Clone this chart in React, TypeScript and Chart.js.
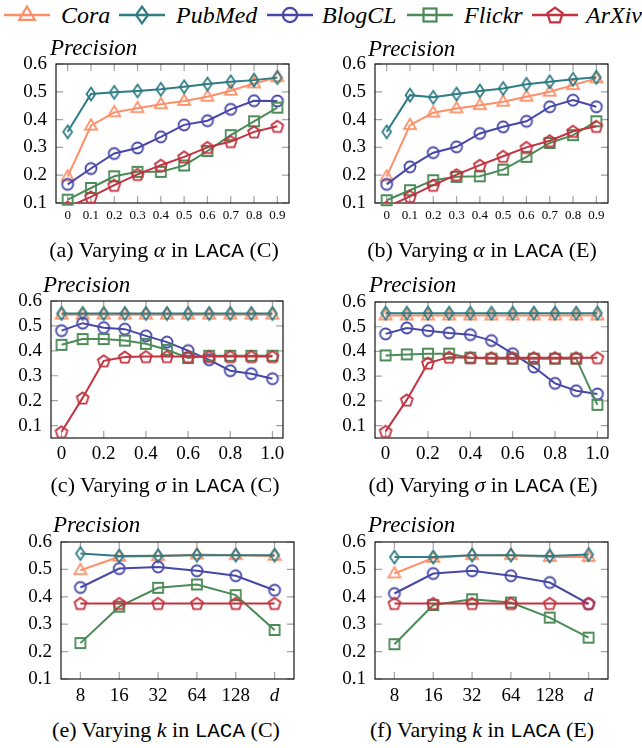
import React, { useEffect, useRef } from "react";
import { Chart, registerables } from "chart.js";
Chart.register(...registerables);

const FAMILY = '"Liberation Serif", "Times New Roman", serif';

const SERIES = ["Cora", "PubMed", "BlogCL", "Flickr", "ArXiv"];
const COLORS = ["#FD8F68", "#2E7C84", "#4747A8", "#4B8B57", "#C2323F"];
const SHAPES = ["triangle", "diamond", "circle", "square", "pentagon"];

const ALPHA_LABELS = ["0", "0.1", "0.2", "0.3", "0.4", "0.5", "0.6", "0.7", "0.8", "0.9"];
const SIGMA_VALUES = [0, 0.1, 0.2, 0.3, 0.4, 0.5, 0.6, 0.7, 0.8, 0.9, 1.0];
const SIGMA_TICKS = [0, 0.2, 0.4, 0.6, 0.8, 1.0];
const K_LABELS = ["8", "16", "32", "64", "128", "d"];
const Y_TICKS = [0.1, 0.2, 0.3, 0.4, 0.5, 0.6];

// (a) alpha, LACA (C)
const A_CORA = [0.195, 0.378, 0.426, 0.441, 0.455, 0.467, 0.482, 0.504, 0.53, 0.552];
const A_PUBMED = [0.356, 0.492, 0.498, 0.503, 0.509, 0.518, 0.528, 0.536, 0.542, 0.551];
const A_BLOGCL = [0.167, 0.224, 0.278, 0.298, 0.338, 0.381, 0.396, 0.437, 0.468, 0.467];
const A_FLICKR = [0.112, 0.154, 0.196, 0.212, 0.212, 0.235, 0.287, 0.344, 0.394, 0.443];
const A_ARXIV = [0.085, 0.122, 0.164, 0.203, 0.236, 0.266, 0.3, 0.321, 0.356, 0.376];

// (b) alpha, LACA (E)
const B_CORA = [0.195, 0.38, 0.425, 0.44, 0.452, 0.464, 0.482, 0.5, 0.524, 0.548];
const B_PUBMED = [0.356, 0.488, 0.48, 0.492, 0.503, 0.512, 0.527, 0.536, 0.545, 0.552];
const B_BLOGCL = [0.167, 0.23, 0.281, 0.302, 0.35, 0.374, 0.394, 0.446, 0.47, 0.446];
const B_FLICKR = [0.11, 0.146, 0.182, 0.194, 0.196, 0.22, 0.266, 0.316, 0.344, 0.394];
const B_ARXIV = [0.085, 0.124, 0.164, 0.202, 0.236, 0.268, 0.3, 0.324, 0.358, 0.376];

// (c) sigma, LACA (C)
const C_CORA = [0.545, 0.545, 0.545, 0.545, 0.545, 0.545, 0.545, 0.545, 0.545, 0.545, 0.545];
const C_PUBMED = [0.55, 0.55, 0.55, 0.55, 0.55, 0.55, 0.55, 0.55, 0.55, 0.55, 0.55];
const C_BLOGCL = [0.481, 0.511, 0.493, 0.487, 0.46, 0.435, 0.401, 0.364, 0.32, 0.308, 0.288];
const C_FLICKR = [0.424, 0.447, 0.447, 0.441, 0.428, 0.404, 0.371, 0.38, 0.38, 0.38, 0.38];
const C_ARXIV = [0.075, 0.211, 0.36, 0.375, 0.377, 0.377, 0.377, 0.377, 0.377, 0.377, 0.377];

// (d) sigma, LACA (E)
const D_CORA = [0.545, 0.545, 0.545, 0.545, 0.545, 0.545, 0.545, 0.545, 0.545, 0.545, 0.545];
const D_PUBMED = [0.555, 0.555, 0.555, 0.555, 0.555, 0.555, 0.555, 0.555, 0.555, 0.555, 0.555];
const D_BLOGCL = [0.471, 0.495, 0.484, 0.475, 0.468, 0.444, 0.391, 0.337, 0.271, 0.241, 0.228];
const D_FLICKR = [0.384, 0.388, 0.391, 0.391, 0.375, 0.371, 0.371, 0.371, 0.371, 0.371, 0.184];
const D_ARXIV = [0.077, 0.204, 0.353, 0.377, 0.375, 0.375, 0.375, 0.375, 0.375, 0.375, 0.375];

// (e) k, LACA (C)
const E_CORA = [0.497, 0.546, 0.548, 0.554, 0.552, 0.549];
const E_PUBMED = [0.558, 0.549, 0.55, 0.552, 0.552, 0.552];
const E_BLOGCL = [0.434, 0.503, 0.509, 0.495, 0.477, 0.424];
const E_FLICKR = [0.231, 0.364, 0.433, 0.445, 0.406, 0.279];
const E_ARXIV = [0.376, 0.376, 0.376, 0.376, 0.376, 0.376];

// (f) k, LACA (E)
const F_CORA = [0.485, 0.542, 0.552, 0.552, 0.545, 0.545];
const F_PUBMED = [0.545, 0.545, 0.552, 0.552, 0.549, 0.554];
const F_BLOGCL = [0.412, 0.485, 0.495, 0.477, 0.452, 0.374];
const F_FLICKR = [0.227, 0.37, 0.391, 0.379, 0.324, 0.251];
const F_ARXIV = [0.376, 0.376, 0.376, 0.376, 0.376, 0.376];

type Box = { x: number; y: number; w: number; h: number };
type Frame = { L: number; T: number; R: number; B: number };
type PanelDef = {
  kind: "cat" | "lin";
  labels?: string[];
  series: number[][];
  yMin: number;
  yMax: number;
  xFont: number;
  xPad: number;
  canvas: Box;
  frame: Frame;
  titleDx: number;
  titleDy: number;
  italicLast?: boolean;
};

const PANELS: PanelDef[] = [
  {
    kind: "cat", labels: ALPHA_LABELS,
    series: [A_CORA, A_PUBMED, A_BLOGCL, A_FLICKR, A_ARXIV],
    yMin: 0.1, yMax: 0.6, xFont: 13, xPad: 5,
    canvas: { x: 0, y: 30, w: 321, h: 205 },
    frame: { L: 56, T: 64, R: 289, B: 203 },
    titleDx: -6, titleDy: -9,
  },
  {
    kind: "cat", labels: ALPHA_LABELS,
    series: [B_CORA, B_PUBMED, B_BLOGCL, B_FLICKR, B_ARXIV],
    yMin: 0.1, yMax: 0.6, xFont: 13, xPad: 5,
    canvas: { x: 321, y: 30, w: 321, h: 205 },
    frame: { L: 375, T: 64, R: 608, B: 203 },
    titleDx: -7, titleDy: -8,
  },
  {
    kind: "lin",
    series: [C_CORA, C_PUBMED, C_BLOGCL, C_FLICKR, C_ARXIV],
    yMin: 0.05, yMax: 0.6, xFont: 19, xPad: 5,
    canvas: { x: 0, y: 262, w: 321, h: 213 },
    frame: { L: 51, T: 301, R: 283, B: 438 },
    titleDx: -8, titleDy: -9.5,
  },
  {
    kind: "lin",
    series: [D_CORA, D_PUBMED, D_BLOGCL, D_FLICKR, D_ARXIV],
    yMin: 0.05, yMax: 0.6, xFont: 19, xPad: 5,
    canvas: { x: 321, y: 262, w: 321, h: 213 },
    frame: { L: 375, T: 302, R: 608, B: 438 },
    titleDx: -6, titleDy: -10,
  },
  {
    kind: "cat", labels: K_LABELS, italicLast: true,
    series: [E_CORA, E_PUBMED, E_BLOGCL, E_FLICKR, E_ARXIV],
    yMin: 0.1, yMax: 0.6, xFont: 19, xPad: 6,
    canvas: { x: 0, y: 500, w: 321, h: 215 },
    frame: { L: 61, T: 542, R: 294, B: 679 },
    titleDx: -8, titleDy: -10,
  },
  {
    kind: "cat", labels: K_LABELS, italicLast: true,
    series: [F_CORA, F_PUBMED, F_BLOGCL, F_FLICKR, F_ARXIV],
    yMin: 0.1, yMax: 0.6, xFont: 19, xPad: 6,
    canvas: { x: 321, y: 500, w: 321, h: 215 },
    frame: { L: 375, T: 542, R: 608, B: 679 },
    titleDx: -7, titleDy: -10,
  },
];

function shapePath(g: CanvasRenderingContext2D, shape: string, cx: number, cy: number, k: number) {
  g.beginPath();
  if (shape === "triangle") {
    g.moveTo(cx, cy - 6.5 * k);
    g.lineTo(cx + 6 * k, cy + 3.8 * k);
    g.lineTo(cx - 6 * k, cy + 3.8 * k);
    g.closePath();
  } else if (shape === "diamond") {
    g.moveTo(cx, cy - 6.5 * k);
    g.lineTo(cx + 4.4 * k, cy);
    g.lineTo(cx, cy + 6.5 * k);
    g.lineTo(cx - 4.4 * k, cy);
    g.closePath();
  } else if (shape === "circle") {
    g.arc(cx, cy, 5.5 * k, 0, Math.PI * 2);
  } else if (shape === "square") {
    g.rect(cx - 5 * k, cy - 5 * k, 10 * k, 10 * k);
  } else {
    for (let j = 0; j < 5; j++) {
      const a = -Math.PI / 2 + (j * 2 * Math.PI) / 5;
      const px = cx + 6.2 * k * Math.cos(a);
      const py = cy + 6.2 * k * Math.sin(a) + 0.6 * k;
      if (j === 0) g.moveTo(px, py);
      else g.lineTo(px, py);
    }
    g.closePath();
  }
}

function makeMarker(shape: string, color: string): HTMLCanvasElement {
  const c = document.createElement("canvas");
  c.width = 18;
  c.height = 18;
  const g = c.getContext("2d")!;
  g.strokeStyle = color;
  g.lineWidth = 1.8;
  g.lineJoin = "miter";
  shapePath(g, shape, 9, 9, 1);
  g.stroke();
  return c;
}

function framePlugin(def: PanelDef) {
  return {
    id: "frameTicks",
    beforeDatasetsDraw(chart: any) {
      const { ctx, chartArea: a, scales } = chart;
      const xs = scales.x;
      const ys = scales.y;
      const tl = 7;
      ctx.save();
      ctx.strokeStyle = "#a3a3a3";
      ctx.lineWidth = 1.2;
      ctx.beginPath();
      xs.ticks.forEach((_t: any, i: number) => {
        const px = xs.getPixelForTick(i);
        ctx.moveTo(px, a.bottom);
        ctx.lineTo(px, a.bottom - tl);
        ctx.moveTo(px, a.top);
        ctx.lineTo(px, a.top + tl);
      });
      ys.ticks.forEach((_t: any, i: number) => {
        const py = ys.getPixelForTick(i);
        ctx.moveTo(a.left, py);
        ctx.lineTo(a.left + tl, py);
        ctx.moveTo(a.right, py);
        ctx.lineTo(a.right - tl, py);
      });
      ctx.stroke();
      ctx.strokeStyle = "#000";
      ctx.lineWidth = 1.1;
      ctx.strokeRect(a.left, a.top, a.right - a.left, a.bottom - a.top);
      ctx.fillStyle = "#000";
      ctx.font = `italic 23px ${FAMILY}`;
      ctx.textAlign = "left";
      ctx.textBaseline = "alphabetic";
      ctx.fillText("Precision", a.left + def.titleDx, a.top + def.titleDy);
      ctx.restore();
    },
  };
}

function Panel({ def }: { def: PanelDef }) {
  const ref = useRef<HTMLCanvasElement>(null);
  useEffect(() => {
    const cv = ref.current!;
    const c = def.canvas;
    const f = def.frame;
    const datasets = SERIES.map((name, i) => ({
      label: name,
      data:
        def.kind === "lin"
          ? SIGMA_VALUES.map((x, j) => ({ x, y: def.series[i][j] }))
          : def.series[i],
      borderColor: COLORS[i],
      backgroundColor: "transparent",
      borderWidth: 2,
      pointStyle: makeMarker(SHAPES[i], COLORS[i]),
      pointRadius: 5,
      pointBorderWidth: 2,
      pointBorderColor: COLORS[i],
      pointBackgroundColor: "transparent",
      order: SERIES.length - i,
      clip: i === 4 ? 0 : 8,
      tension: 0,
    }));
    const xTickFont = (ctx: any) => ({
      family: FAMILY,
      size: def.xFont,
      style: def.italicLast && ctx.index === 5 ? "italic" : "normal",
    });
    const xScale: any =
      def.kind === "cat"
        ? {
            type: "category",
            offset: true,
            grid: { display: false, drawTicks: false },
            border: { display: false },
            ticks: { font: xTickFont, color: "#000", padding: def.xPad, maxRotation: 0, autoSkip: false },
            afterFit: (s: any) => {
              s.height = c.y + c.h - f.B;
            },
          }
        : {
            type: "linear",
            min: -0.05,
            max: 1.05,
            grid: { display: false, drawTicks: false },
            border: { display: false },
            afterBuildTicks: (s: any) => {
              s.ticks = SIGMA_TICKS.map((v) => ({ value: v }));
            },
            ticks: {
              font: xTickFont,
              color: "#000",
              padding: def.xPad,
              maxRotation: 0,
              autoSkip: false,
              callback: (v: any) => (Number(v) === 0 ? "0" : Number(v).toFixed(1)),
            },
            afterFit: (s: any) => {
              s.height = c.y + c.h - f.B;
            },
          };
    const chart = new Chart(cv, {
      type: "line",
      data: { labels: def.kind === "cat" ? def.labels : undefined, datasets } as any,
      options: {
        animation: false,
        responsive: false,
        devicePixelRatio: 1,
        events: [],
        layout: { padding: { left: 0, top: f.T - c.y, right: c.x + c.w - f.R, bottom: 0 } },
        plugins: { legend: { display: false }, tooltip: { enabled: false } },
        scales: {
          x: xScale,
          y: {
            type: "linear",
            min: def.yMin,
            max: def.yMax,
            grid: { display: false, drawTicks: false },
            border: { display: false },
            afterBuildTicks: (s: any) => {
              s.ticks = Y_TICKS.map((v) => ({ value: v }));
            },
            ticks: {
              font: { family: FAMILY, size: 19 },
              color: "#000",
              padding: 9,
              callback: (v: any) => Number(v).toFixed(1),
            },
            afterFit: (s: any) => {
              s.width = f.L - c.x;
            },
          },
        },
      } as any,
      plugins: [framePlugin(def) as any],
    });
    return () => chart.destroy();
  }, [def]);
  return (
    <canvas
      ref={ref}
      width={def.canvas.w}
      height={def.canvas.h}
      style={{ position: "absolute", left: def.canvas.x, top: def.canvas.y, width: def.canvas.w, height: def.canvas.h }}
    />
  );
}

const LEGEND_ICON_X = [4, 119, 267, 407, 532];
const LEGEND_TEXT_X = [61, 176, 322, 464, 586];

function LegendIcon({ i }: { i: number }) {
  const color = COLORS[i];
  const shape = SHAPES[i];
  const cx = 23;
  const cy = 15;
  const k = 1.3;
  let el: any = null;
  if (shape === "triangle") {
    el = <polygon points={`${cx},${cy - 6.5 * k} ${cx + 6 * k},${cy + 3.8 * k} ${cx - 6 * k},${cy + 3.8 * k}`} />;
  } else if (shape === "diamond") {
    el = <polygon points={`${cx},${cy - 6.5 * k} ${cx + 4.6 * k},${cy} ${cx},${cy + 6.5 * k} ${cx - 4.6 * k},${cy}`} />;
  } else if (shape === "circle") {
    el = <circle cx={cx} cy={cy} r={5.5 * k} />;
  } else if (shape === "square") {
    el = <rect x={cx - 5 * k} y={cy - 5 * k} width={10 * k} height={10 * k} />;
  } else {
    const pts: string[] = [];
    for (let j = 0; j < 5; j++) {
      const a = -Math.PI / 2 + (j * 2 * Math.PI) / 5;
      pts.push(`${cx + 6.2 * k * Math.cos(a)},${cy + 6.2 * k * Math.sin(a) + 0.6 * k}`);
    }
    el = <polygon points={pts.join(" ")} />;
  }
  return (
    <svg width={46} height={30} style={{ position: "absolute", left: LEGEND_ICON_X[i], top: 0 }}>
      <line x1={0} y1={cy} x2={46} y2={cy} stroke={color} strokeWidth={2.4} />
      <g fill="none" stroke={color} strokeWidth={2.2}>
        {el}
      </g>
    </svg>
  );
}

function Legend() {
  return (
    <>
      {SERIES.map((name, i) => (
        <React.Fragment key={name}>
          <LegendIcon i={i} />
          <span
            style={{
              position: "absolute",
              left: LEGEND_TEXT_X[i],
              top: 2.6,
              fontFamily: FAMILY,
              fontStyle: "italic",
              fontSize: 24,
              lineHeight: "24px",
              whiteSpace: "nowrap",
              color: "#000",
            }}
          >
            {name}
          </span>
        </React.Fragment>
      ))}
    </>
  );
}

const CAPTIONS = [
  { letter: "a", sym: "α", mode: "C", cx: 164, base: 257 },
  { letter: "b", sym: "α", mode: "E", cx: 482, base: 257 },
  { letter: "c", sym: "σ", mode: "C", cx: 165, base: 492 },
  { letter: "d", sym: "σ", mode: "E", cx: 483, base: 492 },
  { letter: "e", sym: "k", mode: "C", cx: 166, base: 737 },
  { letter: "f", sym: "k", mode: "E", cx: 482, base: 737 },
];

function Caption({ c }: { c: (typeof CAPTIONS)[number] }) {
  return (
    <div
      style={{
        position: "absolute",
        left: c.cx - 160,
        width: 320,
        top: c.base - 20.4,
        textAlign: "center",
        fontFamily: FAMILY,
        fontSize: 22,
        lineHeight: "26px",
        whiteSpace: "nowrap",
        color: "#000",
      }}
    >
      ({c.letter}) Varying <i>{c.sym}</i> in{" "}
      <span style={{ fontFamily: '"Liberation Mono", monospace', fontSize: 21 }}>LACA</span> ({c.mode})
    </div>
  );
}

export default function App() {
  return (
    <div
      style={{
        position: "absolute",
        left: 0,
        top: 0,
        width: 642,
        height: 748,
        background: "#fff",
        overflow: "hidden",
      }}
    >
      <Legend />
      {PANELS.map((p, i) => (
        <Panel key={i} def={p} />
      ))}
      {CAPTIONS.map((c) => (
        <Caption key={c.letter} c={c} />
      ))}
    </div>
  );
}
